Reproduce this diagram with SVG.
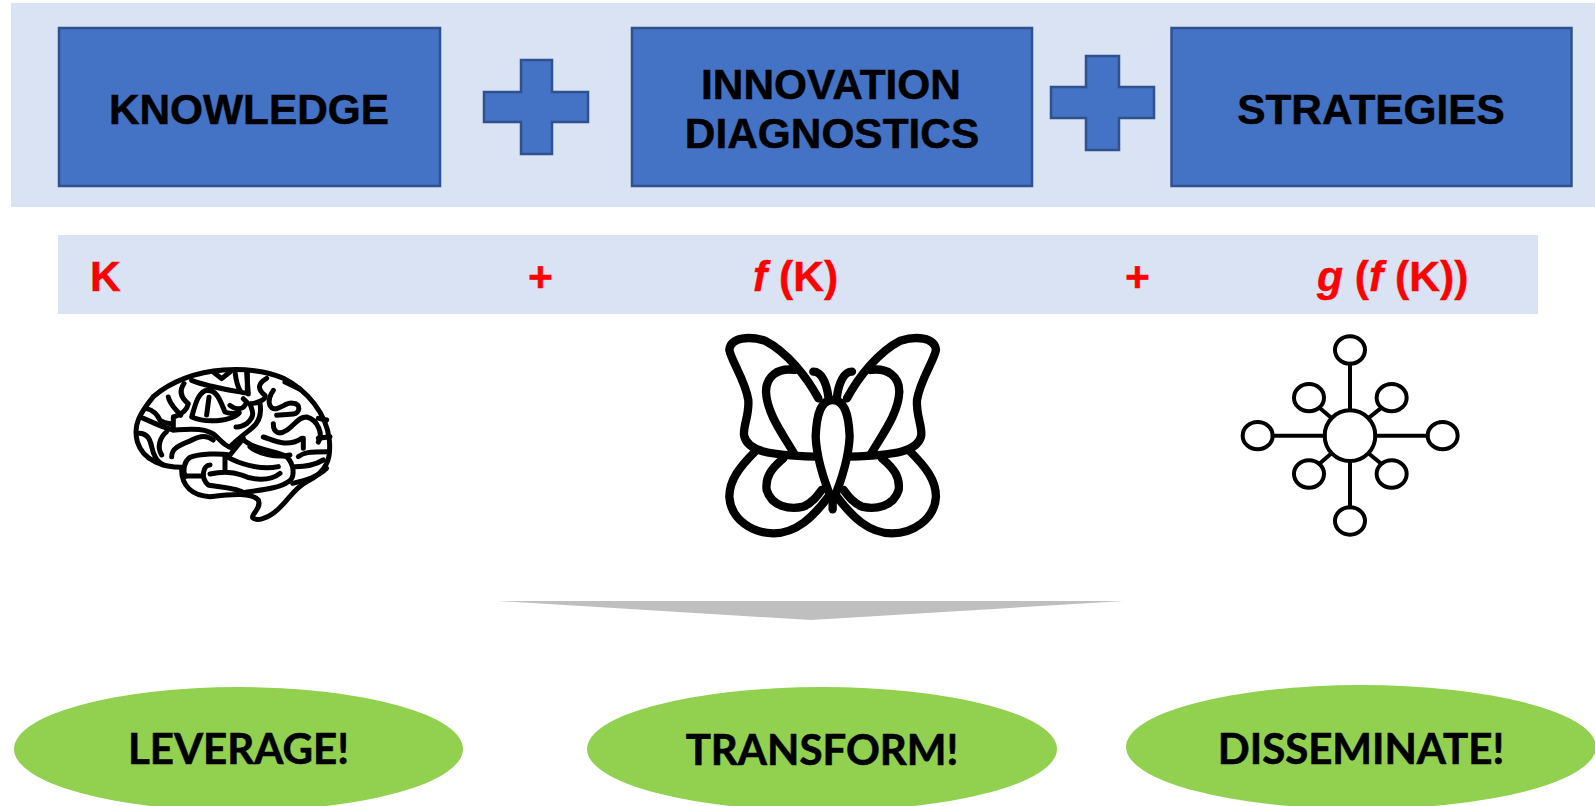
<svg xmlns="http://www.w3.org/2000/svg" width="1595" height="806" viewBox="0 0 1595 806">
<style>
.band{fill:#DAE3F3}
.box{fill:#4472C4;stroke:#2F528F;stroke-width:2.5}
.t{font-family:"Liberation Sans",Arial,sans-serif;font-weight:700;font-size:42.4px;fill:#000;stroke:#000;stroke-width:.5;text-anchor:middle}
.r{font-family:"Liberation Sans",Arial,sans-serif;font-weight:700;font-size:42.6px;fill:#FF0000;stroke:#FF0000;stroke-width:.4}
.e{fill:#92D050}
.g{font-family:Lato,"Open Sans",sans-serif;font-weight:700;font-size:42px;fill:#000;stroke:#000;stroke-width:.6;text-anchor:middle}
.i{fill:none;stroke:#000;stroke-linecap:round;stroke-linejoin:round}
</style>
<defs>
<g id="bf-half"><path d="M355 235C320 170 260 95 195 62C150 48 92 50 88 90C95 125 135 180 145 240C148 285 130 315 132 345C140 395 210 405 345 410"/>
<path d="M285 405C250 345 200 280 198 215C198 170 232 142 285 150"/>
<path d="M165 395C120 440 88 480 88 530C92 600 160 640 220 640C290 640 340 590 385 530"/>
<path d="M250 415C215 445 195 470 200 510C215 560 270 570 310 560C335 550 350 530 365 510"/>
<path d="M340 155C365 155 380 190 385 230"/></g>
</defs>
<rect width="1595" height="806" fill="#fff"/>
<rect class="band" x="11" y="3" width="1584" height="204"/>
<rect class="band" x="58" y="235" width="1480" height="79"/>
<g id="knowledge"><rect class="box" x="59" y="28" width="381" height="158"/><text class="t" x="249" y="124">KNOWLEDGE</text></g>
<g id="plus1"><path class="box" d="M521 60H552V92H588V122H552V154H521V122H484V92H521Z"/></g>
<g id="innovation"><rect class="box" x="632" y="28" width="400" height="158"/><text class="t" x="831" y="99">INNOVATION</text><text class="t" x="832" y="148">DIAGNOSTICS</text></g>
<g id="plus2"><path class="box" d="M1086 56H1119V87H1154V118H1119V150H1086V118H1051V87H1086Z"/></g>
<g id="strategies"><rect class="box" x="1171.500" y="28" width="400" height="158"/><text class="t" x="1371" y="124">STRATEGIES</text></g>
<g id="formula-k"><text class="r" x="90" y="291">K</text></g>
<g id="formula-plus1"><text class="r" x="528" y="291">+</text></g>
<g id="formula-f"><text class="r" x="753" y="291"><tspan font-style="italic">f</tspan> (K)</text></g>
<g id="formula-plus2"><text class="r" x="1125" y="291">+</text></g>
<g id="formula-g"><text class="r" x="1317" y="291"><tspan font-style="italic">g</tspan> (<tspan font-style="italic">f</tspan> (K))</text></g>
<g id="brain" class="i" transform="translate(110 350) scale(.3333)" stroke-width="15">
<path d="M215 352C165 352 100 335 82 275C68 225 90 190 130 140C180 95 260 65 340 60C400 55 470 62 520 85C590 120 650 190 658 270C663 320 655 365 590 395C550 415 530 460 490 490C470 505 440 515 428 503C425 490 455 475 445 450C425 428 370 432 300 440C250 438 212 410 215 352Z"/>
<path d="M400 265L360 315C330 310 270 310 240 322C222 335 218 360 225 380"/>
<path d="M225 378H275M300 345C280 345 270 385 295 405C325 412 380 412 405 430"/>
<path d="M345 320V360M300 372C330 365 360 362 395 375C425 390 480 395 510 370"/>
<path d="M420 290C440 310 500 325 540 315M350 320C385 340 450 362 505 350"/>
<path d="M395 265C430 300 490 300 530 320C555 345 555 385 535 395C510 415 450 420 400 428"/>
<path d="M650 355C625 380 590 390 548 400M640 330C615 345 590 350 555 350M565 320C580 308 595 305 655 305"/>
<path d="M490 121C470 150 475 180 500 176C520 170 535 155 548 160C575 160 570 190 550 192L500 196"/>
<path d="M410 66L415 132M470 85C445 100 440 115 465 136C470 150 440 160 420 161C425 180 440 195 410 221C395 230 385 232 378 231"/>
<path d="M450 161C455 190 450 215 425 235C400 255 380 270 360 290M360 166C375 178 400 185 410 156L400 146"/>
<path d="M490 221C490 250 510 255 530 241C555 225 565 200 590 201C625 210 640 255 625 276"/>
<path d="M460 261C490 270 530 295 575 265M580 265V295"/>
<path d="M525 96L570 118M625 205L650 210M625 265L660 260"/>
<path d="M310 66L335 86L360 66M245 91C290 110 360 120 412 130V66M375 66C378 90 382 110 392 125"/>
<path d="M245 201C255 170 260 135 285 122C320 115 330 150 345 186C360 192 375 192 388 188C375 205 340 210 320 212C290 214 265 210 245 201Z"/>
<path d="M297 142L290 195"/>
<path d="M222 101C205 125 215 145 235 161C230 185 210 195 190 201V240C230 238 290 230 320 260C340 280 350 290 368 295"/>
<path d="M175 141C180 165 200 180 212 196"/>
<path d="M110 176C135 182 145 200 150 211C160 218 170 220 182 221"/>
<path d="M100 205C125 215 150 230 190 240M170 245C150 262 140 290 155 315"/>
<path d="M85 250C110 248 120 265 125 290C130 315 140 335 160 345"/>
<path d="M185 320C185 295 210 285 235 275C260 262 285 250 310 270"/>
</g>
<g id="butterfly" class="i" transform="translate(700 320) scale(.3333)" stroke-width="25">
<use href="#bf-half"/>
<use href="#bf-half" transform="translate(796 0) scale(-1 1)"/>
<path d="M398 240C365 240 350 275 347 350C350 420 375 490 398 545C421 490 446 420 449 350C446 275 431 240 398 240Z"/>
<path d="M398 530V568"/>
</g>
<g id="network" class="i" transform="translate(1220 320) scale(.3333)" stroke-width="12">
<circle cx="390" cy="347" r="76"/>
<ellipse cx="390" cy="90" rx="45" ry="41"/><ellipse cx="390" cy="603" rx="45" ry="41"/>
<ellipse cx="113" cy="347" rx="45" ry="41"/><ellipse cx="668" cy="347" rx="45" ry="41"/>
<ellipse cx="267" cy="233" rx="45" ry="41"/><ellipse cx="515" cy="233" rx="45" ry="41"/>
<ellipse cx="267" cy="462" rx="45" ry="41"/><ellipse cx="515" cy="462" rx="45" ry="41"/>
<path d="M390 131V271M390 423V562M158 347H314M466 347H623M300 265L332 292M482 265L448 292M300 430L332 402M482 430L448 402"/>
</g>
<g id="connectors"><path id="arrow" fill="#BFBFBF" d="M498 601H1124L811 620Z"/></g>
<g id="leverage"><ellipse class="e" cx="238.500" cy="749" rx="224.500" ry="62"/><text class="g" x="238.500" y="764">LEVERAGE!</text></g>
<g id="transform"><ellipse class="e" cx="822" cy="749" rx="235" ry="62"/><text class="g" x="822" y="765">TRANSFORM!</text></g>
<g id="disseminate"><ellipse class="e" cx="1361" cy="747" rx="235" ry="62"/><text class="g" x="1361" y="764">DISSEMINATE!</text></g>
</svg>
